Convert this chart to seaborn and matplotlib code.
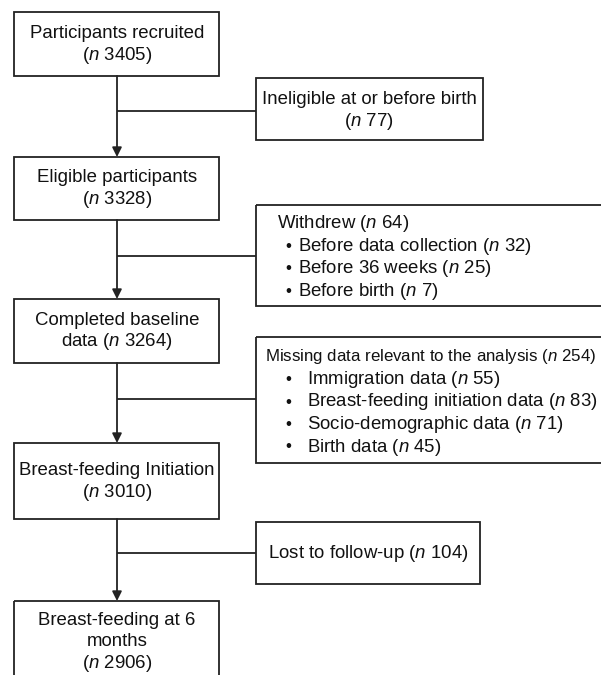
import matplotlib
matplotlib.use('Agg')
import matplotlib.pyplot as plt
import matplotlib.patches as mpatches
import seaborn as sns

# --------------------
# DATA
# --------------------
main_labels = ['Participants recruited', 'Eligible participants', 'Completed baseline\ndata',
               'Breast-feeding Initiation', 'Breast-feeding at 6\nmonths']
main_counts = [3405, 3328, 3264, 3010, 2906]

inelig_label = 'Ineligible at or before birth'
inelig_count = 77

withdrew_label = 'Withdrew'
withdrew_count = 64
withdrew_items = ['Before data collection', 'Before 36 weeks', 'Before birth']
withdrew_counts = [32, 25, 7]

missing_label = 'Missing data relevant to the analysis'
missing_count = 254
missing_items = ['Immigration data', 'Breast-feeding initiation data',
                 'Socio-demographic data', 'Birth data']
missing_counts = [55, 83, 71, 45]

lost_label = 'Lost to follow-up'
lost_count = 104

# --------------------
# STYLE
# --------------------
sns.set_theme(style='white')
plt.rcParams['font.family'] = ['Liberation Sans', 'DejaVu Sans']
plt.rcParams['mathtext.fontset'] = 'custom'
plt.rcParams['mathtext.it'] = 'Liberation Sans:italic'
plt.rcParams['mathtext.rm'] = 'Liberation Sans'

EDGE = '#222222'
TXT = '#111111'
LW = 1.3
FS_MAIN = 13.4
FS_SIDE = 13.4
FS_MISS = 12.2
LINE = 21.2


def nstr(v):
    return r'($\mathit{n}$ ' + str(v) + ')'


def box(ax, x0, y0, x1, y1):
    ax.add_patch(mpatches.Rectangle((x0, y0), x1 - x0, y1 - y0, fill=False,
                                    edgecolor=EDGE, linewidth=LW))


def arrow(ax, x, y0, y1):
    ax.annotate('', xy=(x, y1), xytext=(x, y0),
                arrowprops=dict(arrowstyle='-|>', color=EDGE, lw=LW,
                                mutation_scale=14, shrinkA=0, shrinkB=0))


def lines_centered(ax, x, yc, lines, fs):
    top = yc - (len(lines) - 1) * LINE / 2
    for i, ln in enumerate(lines):
        ax.text(x, top + i * LINE, ln, ha='center', va='center', fontsize=fs, color=TXT)


fig = plt.figure(figsize=(6.01, 6.75), dpi=100)
ax = fig.add_axes([0, 0, 1, 1])
ax.set_xlim(0, 601)
ax.set_ylim(675, 0)
ax.axis('off')

# main column
mx0, mx1 = 14, 219
cx = 117
main_y = [(12, 76), (157, 220), (299, 363), (443, 519), (601, 720)]
main_ty = [44.5, 188.5, 331, 481.5, 642]
for (y0, y1), ty, lab, cnt in zip(main_y, main_ty, main_labels, main_counts):
    box(ax, mx0, y0, mx1, y1)
    parts = lab.split('\n')
    if lab.startswith('Completed'):
        parts[-1] = parts[-1] + ' ' + nstr(cnt)
    else:
        parts.append(nstr(cnt))
    lines_centered(ax, cx, ty, parts, FS_MAIN)

for (a, b) in zip(main_y[:-1], main_y[1:]):
    arrow(ax, cx, a[1], b[0])

# side boxes
sx = 256
branch_y = [111, 256, 399, 553]
for by in branch_y:
    ax.plot([cx, sx], [by, by], color=EDGE, lw=LW, solid_capstyle='butt')

# ineligible
box(ax, sx, 78, 483, 140)
lines_centered(ax, 369, 110.5, [inelig_label, nstr(inelig_count)], FS_SIDE)

# withdrew
box(ax, sx, 205, 640, 306)
ax.text(277, 224, withdrew_label + ' ' + nstr(withdrew_count), ha='left', va='center',
        fontsize=FS_SIDE, color=TXT)
for i, (it, c) in enumerate(zip(withdrew_items, withdrew_counts)):
    yy = 246.5 + i * 22.3
    ax.text(285, yy, '\u2022', ha='left', va='center', fontsize=FS_SIDE - 1, color=TXT)
    ax.text(298, yy, it + ' ' + nstr(c), ha='left', va='center', fontsize=FS_SIDE,
            color=TXT)

# missing
box(ax, sx, 337, 640, 463)
ax.text(265, 357, missing_label + ' ' + nstr(missing_count), ha='left', va='center',
        fontsize=FS_MISS, color=TXT)
for i, (it, c) in enumerate(zip(missing_items, missing_counts)):
    yy = 379.5 + i * 22.5
    ax.text(285, yy, '\u2022', ha='left', va='center', fontsize=FS_SIDE - 1, color=TXT)
    ax.text(307, yy, it + ' ' + nstr(c), ha='left', va='center', fontsize=FS_SIDE,
            color=TXT)

# lost
box(ax, sx, 522, 480, 584)
ax.text(368, 553, lost_label + ' ' + nstr(lost_count), ha='center', va='center',
        fontsize=FS_SIDE, color=TXT)

fig.savefig('out.png', dpi=100, facecolor='white')
